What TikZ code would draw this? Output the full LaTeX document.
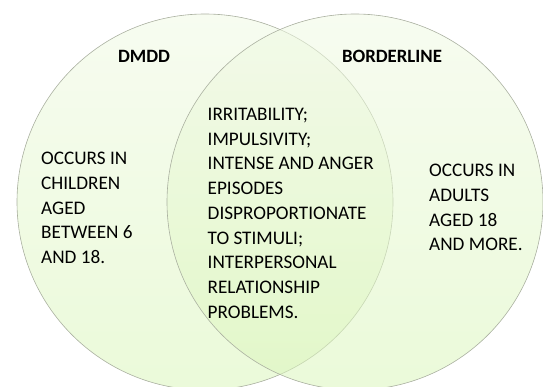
\documentclass[tikz,border=0pt]{standalone}
\usepackage{fontspec}
\setmainfont{Carlito}
\usepackage{xcolor}
\usetikzlibrary{positioning}

\definecolor{setline}{RGB}{170,176,160}
\definecolor{settop}{RGB}{240,249,228}
\definecolor{setbot}{RGB}{218,245,186}

\begin{document}
\begin{tikzpicture}[x=1pt,y=1pt]
  \tikzstyle{set}=[circle,draw=setline,line width=0.6pt,minimum size=376pt,inner sep=0pt,top color=settop,bottom color=setbot,fill opacity=0.55,draw opacity=1]
  \tikzstyle{title}=[font=\fontsize{18.8}{22}\selectfont\bfseries,inner sep=0pt]
  \tikzstyle{body}=[font=\fontsize{19.2}{24.7}\selectfont,align=left,anchor=north west,inner sep=0pt]

  \useasboundingbox (0,0) rectangle (543,386);

  % the two sets
  \node[set] (dmdd) at (205,184) {};
  \node[set] (bpd) at (355,184) {};

  % names
  \node[title] (dmddname) at (144,330) {DMDD};
  \node[title] (bpdname) at (392,330) {BORDERLINE};

  % contents
  \node[body] (kids) at (41,234) {OCCURS IN\\CHILDREN\\AGED\\BETWEEN 6\\AND 18.};
  \node[body] (both) at (207.5,278) {IRRITABILITY;\\IMPULSIVITY;\\INTENSE AND ANGER\\EPISODES\\DISPROPORTIONATE\\TO STIMULI;\\INTERPERSONAL\\RELATIONSHIP\\PROBLEMS.};
  \node[body] (adults) at (429,222) {OCCURS IN\\ADULTS\\AGED 18\\AND MORE.};

\end{tikzpicture}
\end{document}
